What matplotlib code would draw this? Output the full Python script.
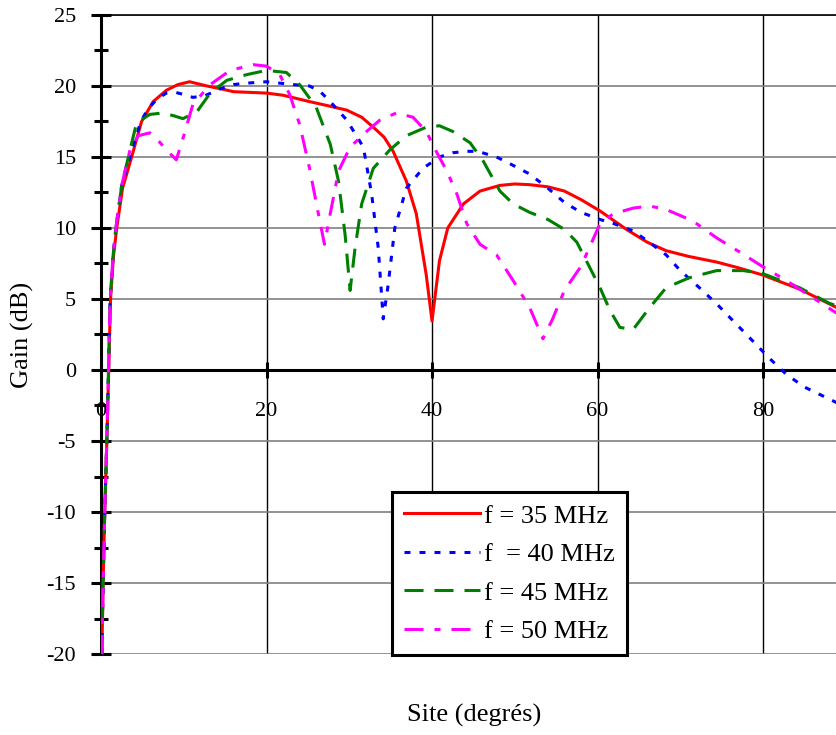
import matplotlib
matplotlib.use('Agg')
import matplotlib.pyplot as plt

plt.rcParams['font.family'] = ['Liberation Serif', 'DejaVu Serif']
plt.rcParams['lines.scale_dashes'] = False
plt.rcParams['axes.unicode_minus'] = False

# Gain curves (site in degrees, gain in dB)
x_35 = [0.1, 0.25, 0.45, 0.7, 0.93, 1.15, 1.5, 1.9, 2.6, 3.7, 4.9, 6.3, 7.9, 9.3, 10.7,
        12.8, 14.5, 16, 18, 20, 22, 25.2, 27.5, 29.7, 31.5, 32.9, 34.2, 35.3, 36.9, 38.1,
        39.3, 40.0, 40.9, 41.9, 43.8, 45.8, 48.2, 50, 51.8, 54, 56, 58, 60.3, 63.5, 66,
        68.3, 71, 74.4, 77, 79.9, 84.4, 88.9, 90]
y_35 = [-20, -15, -10, -5, 0, 5, 8, 10, 12.8, 15, 17.5, 18.9, 19.7, 20.1, 20.3,
        20.0, 19.8, 19.6, 19.55, 19.5, 19.35, 18.9, 18.6, 18.3, 17.8, 17.1, 16.4, 15.4, 13.3, 11.0,
        6.7, 3.45, 7.7, 10.0, 11.7, 12.6, 13.0, 13.1, 13.05, 12.9, 12.6, 12.0, 11.2, 9.9, 9.0,
        8.4, 8.0, 7.6, 7.2, 6.7, 5.7, 4.4, 4.1]

x_40 = [0.1, 0.25, 0.45, 0.7, 0.9, 1.1, 1.45, 1.8, 2.5, 3.5, 4.8, 5.7, 6.8, 7.9, 9, 10,
        11.1, 12.5, 14.4, 16, 17.6, 20, 23.2, 25.2, 26.5, 27.7, 29.7, 31.7, 32.7, 33.5,
        33.9, 34.1, 34.7, 35.5, 36.9, 38.9, 40.9, 42.5, 44.2, 45.5, 47.8, 49.5, 51.8, 54,
        56, 58, 60.3, 62, 64.3, 66, 68.3, 70, 72.3, 74.5, 76.4, 78, 79.9, 81, 82.8, 85,
        88.9, 90]
y_40 = [-20, -15, -10, -5, 0, 5, 8, 10, 13, 15, 17.5, 18.4, 19.1, 19.5, 19.55, 19.4,
        19.2, 19.3, 19.8, 20.1, 20.2, 20.3, 20.1, 20.0, 19.6, 18.9, 17.6, 15.7, 12.4, 8.6,
        5.3, 3.6, 6.0, 10.0, 12.8, 14.2, 15.0, 15.3, 15.4, 15.4, 15.0, 14.5, 13.8, 12.8,
        11.8, 11.1, 10.6, 10.3, 9.8, 9.1, 8.1, 7.0, 5.8, 4.6, 3.45, 2.5, 1.35, 0.7, -0.3, -1.2,
        -2.3, -2.7]

x_45 = [0.1, 0.25, 0.45, 0.7, 0.9, 1.1, 1.45, 1.8, 2.5, 3.5, 4.3, 5.9, 7.5, 8.8, 9.9,
        11.6, 13.2, 15.2, 17.6, 20, 22.4, 24.0, 26.0, 27.7, 28.7, 29.5, 30.1, 30.7, 31.5,
        32.9, 34.9, 36.9, 39.3, 40.9, 42.5, 44.6, 46.2, 48.2, 49.8, 51.8, 54, 56, 57.5,
        60.3, 61.5, 62.7, 64.3, 66.3, 68.3, 71.1, 74.4, 77.6, 79.9, 84.4, 88.0, 90]
y_45 = [-20, -15, -10, -5, 0, 5, 8, 10, 13, 15.5, 17.4, 18.0, 18.1, 17.9, 17.7,
        18.2, 19.5, 20.4, 20.8, 21.1, 20.95, 20.1, 18.5, 15.9, 13.3, 9.5, 5.6, 8.6, 11.7,
        14.2, 15.5, 16.5, 17.1, 17.2, 16.8, 16.0, 14.7, 12.6, 11.7, 11.1, 10.6, 9.9, 9.0,
        5.8, 4.2, 3.0, 2.85, 4.4, 5.8, 6.5, 7.0, 7.0, 6.8, 5.8, 4.7, 4.3]

x_50 = [0.1, 0.25, 0.45, 0.7, 0.9, 1.1, 1.45, 1.8, 2.5, 3.5, 4.5, 5.9, 7.0, 7.9, 9.1,
        10.0, 11.1, 13.2, 15.6, 18.4, 20, 21.6, 22.8, 24.0, 25.2, 26.2, 27.0, 27.7, 28.7,
        30.1, 32.1, 33.7, 35.7, 37.7, 39.3, 40.5, 41.8, 43.0, 44.2, 45.8, 47.8, 49.8, 51.8,
        53.4, 54.5, 56, 58, 60.3, 61.9, 64.3, 66.3, 68.3, 71.5, 74.4, 77.2, 79.9, 82.8,
        86.0, 88.9, 90]
y_50 = [-20, -15, -10, -5, 0, 5, 8, 10, 13, 15.5, 16.5, 16.7, 16.1, 15.5, 14.8,
        16.5, 18.7, 20.1, 21.1, 21.5, 21.4, 20.8, 19.4, 17.3, 14.2, 11.2, 8.85, 11.0, 14.0,
        15.7, 16.8, 17.6, 18.1, 17.8, 16.8, 15.4, 14.0, 12.4, 10.3, 8.85, 8.1, 6.3, 4.4,
        2.2, 3.5, 5.6, 7.3, 10.3, 11.0, 11.4, 11.55, 11.3, 10.5, 9.3, 8.3, 7.3, 6.3,
        5.1, 4.0, 3.6]

labels = ['f = 35 MHz', 'f  = 40 MHz', 'f = 45 MHz', 'f = 50 MHz']
colors = ['#ff0000', '#0000ff', '#008000', '#ff00ff']
dash_styles = [None, (4.3, 6.5), (13.7, 7.9), (13.7, 7.9, 4.3, 7.9)]

fig = plt.figure(figsize=(8.37, 7.35), dpi=100)
ax = fig.add_axes([0.1207, 0.1102, 0.8898, 0.8694])

series = [(x_35, y_35), (x_40, y_40), (x_45, y_45), (x_50, y_50)]
for (xs, ys), lab, col, ds in zip(series, labels, colors, dash_styles):
    line, = ax.plot(xs, ys, color=col, lw=2.2, label=lab, zorder=3)
    if ds is not None:
        line.set_dashes(ds)

ax.set_xlim(0, 90)
ax.set_ylim(-20, 25)
ax.set_xticks([0, 20, 40, 60, 80])
ax.set_yticks(range(-20, 26, 5))
ax.set_yticks([v + 2.5 for v in range(-20, 25, 5)], minor=True)

# grid: grey horizontal lines, black vertical lines
ax.yaxis.grid(True, color='#808080', lw=1.2)
ax.xaxis.grid(True, color='black', lw=1.0)
ax.set_axisbelow(True)

ax.spines['bottom'].set_position(('data', 0))
ax.spines['bottom'].set_linewidth(2.2)
ax.spines['left'].set_linewidth(2.2)
ax.spines['top'].set_linewidth(1.2)
ax.spines['right'].set_visible(False)

ax.tick_params(axis='y', which='major', direction='inout', length=14, width=2.2,
               labelsize=16, pad=11)
ax.tick_params(axis='y', which='minor', direction='inout', length=10, width=2.2)
ax.tick_params(axis='x', which='major', direction='inout', length=11.5, width=2.2,
               labelsize=16, pad=17)

fig.text(22 / 837, 1 - 335 / 735, 'Gain (dB)', rotation=90, ha='center', va='center',
         fontsize=19)
fig.text(474 / 837, 1 - 715 / 735, 'Site (degrés)', ha='center', va='center', fontsize=19)

leg = ax.legend(loc='lower left', bbox_to_anchor=(392 / 837, 1 - 655 / 735),
                bbox_transform=fig.transFigure, fancybox=False, framealpha=1,
                edgecolor='black', fontsize=19, handlelength=2.9, handletextpad=0.15,
                labelspacing=0.57, borderpad=0.45, borderaxespad=0)
leg.get_frame().set_linewidth(2.2)
leg.set_zorder(5)

fig.savefig('out.png', dpi=100)
